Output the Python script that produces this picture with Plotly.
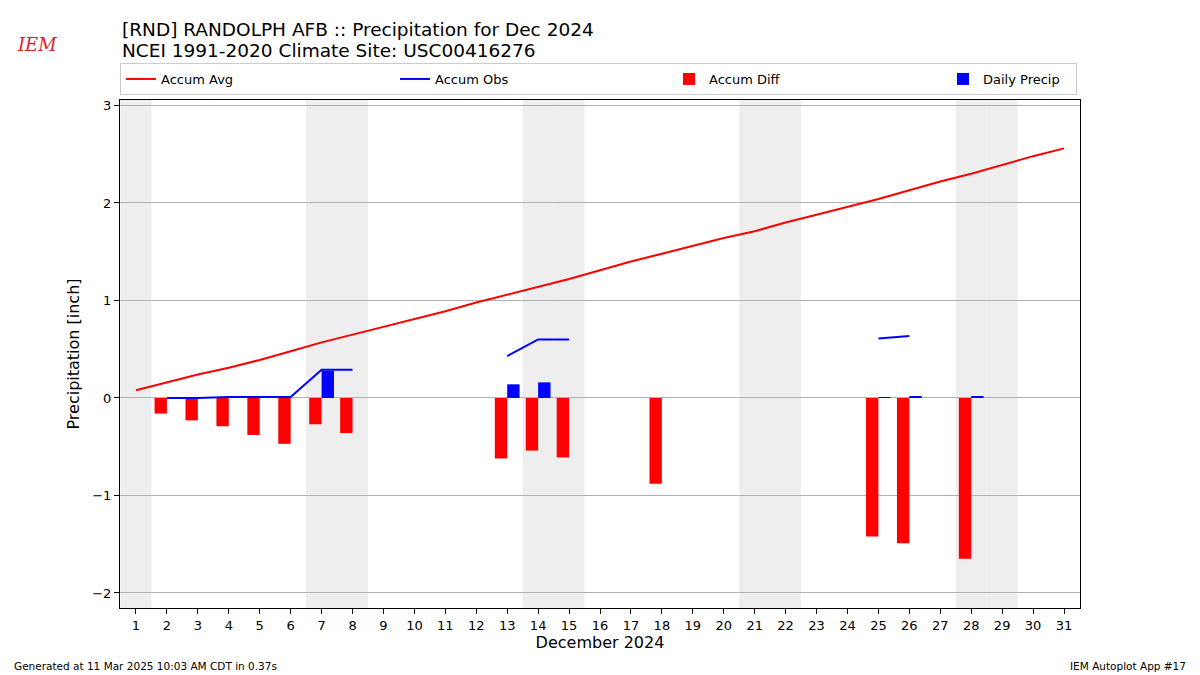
import datetime
import plotly.graph_objects as go

days = list(range(1, 32))
accum_avg = [0.08, 0.16, 0.24, 0.31, 0.39, 0.48, 0.57, 0.65, 0.73, 0.81, 0.89, 0.98,
             1.06, 1.14, 1.22, 1.31, 1.40, 1.48, 1.56, 1.64, 1.71, 1.80, 1.88, 1.96,
             2.04, 2.13, 2.22, 2.30, 2.39, 2.48, 2.56]
accum_obs = [None, 0.00, 0.00, 0.01, 0.01, 0.01, 0.29, 0.29, None, None, None, None,
             0.43, 0.60, 0.60, None, None, None, None, None, None, None, None, None,
             0.61, 0.635, None, None, None, None, None]
accum_diff = [None, -0.16, -0.23, -0.29, -0.38, -0.47, -0.27, -0.36, None, None, None, None,
              -0.62, -0.54, -0.61, None, None, -0.88, None, None, None, None, None, None,
              -1.42, -1.49, None, -1.65, None, None, None]
daily_precip = [None, 0.0, 0.0, 0.0, 0.0, 0.0, 0.28, 0.0, None, None, None, None,
                0.14, 0.16, 0.0, None, None, None, None, None, None, None, None, None,
                0.01, 0.02, None, 0.02, None, None, None]

year, month = 2024, 12
font = "DejaVu Sans"

# page offset compensation (body margin 8px)
PW, PH = 960, 508  # plot area size in px
def px_x(x):
    return (x - 120) / PW
def px_y(y):
    return 1 - (y - 100) / PH

fig = go.Figure()
fig.add_trace(go.Scatter(x=days, y=accum_avg, mode="lines", name="Accum Avg",
                         line=dict(color="red", width=2)))
fig.add_trace(go.Scatter(x=days, y=accum_obs, mode="lines", name="Accum Obs",
                         line=dict(color="blue", width=2), connectgaps=False))
fig.add_trace(go.Bar(x=days, y=accum_diff, name="Accum Diff", marker_color="red",
                     marker_line_width=0, width=0.4, offset=-0.4))
fig.add_trace(go.Bar(x=days, y=daily_precip, name="Daily Precip", marker_color="blue",
                     marker_line_width=0, width=0.4, offset=0.0, legendwidth=88))

# weekend shading
shapes = []
for d in days:
    wd = datetime.date(year, month, d).weekday()
    if wd >= 5:
        shapes.append(dict(type="rect", xref="x", yref="paper", x0=d - 0.5, x1=d + 0.5,
                           y0=0, y1=1, fillcolor="#eeeeee", line_width=0, layer="below"))

fig.update_layout(
    width=1192, height=667,
    margin=dict(l=112, r=120, t=92, b=67),
    paper_bgcolor="white", plot_bgcolor="white",
    font=dict(family=font, size=13, color="black"),
    barmode="overlay",
    shapes=shapes,
    showlegend=True,
    legend=dict(orientation="h", x=0, xanchor="left", y=px_y(95), yanchor="bottom",
                bordercolor="#cccccc", borderwidth=1, font=dict(size=13),
                entrywidth=229, entrywidthmode="pixels", itemwidth=30),
    xaxis=dict(range=[0.483, 31.517], tickvals=days, ticktext=[str(d) for d in days],
               showgrid=False, zeroline=False, showline=True, linecolor="black",
               linewidth=1, mirror=True, ticks="outside", ticklen=5, tickcolor="black",
               title=dict(text="December 2024", font=dict(size=16), standoff=5),
               tickfont=dict(size=13)),
    yaxis=dict(range=[-2.154, 3.056], tickvals=[-2, -1, 0, 1, 2, 3],
               showgrid=True, gridcolor="#b0b0b0", gridwidth=1, zeroline=False,
               showline=True, linecolor="black", linewidth=1, mirror=True,
               ticks="outside", ticklen=5, tickcolor="black",
               title=dict(text="Precipitation [inch]", font=dict(size=16), standoff=8),
               tickfont=dict(size=13)),
    annotations=[
        dict(text="[RND] RANDOLPH AFB :: Precipitation for Dec 2024",
             xref="paper", yref="paper", x=0, y=px_y(29), xanchor="left", yanchor="middle",
             showarrow=False, font=dict(size=18.5, family=font)),
        dict(text="NCEI 1991-2020 Climate Site: USC00416276",
             xref="paper", yref="paper", x=0, y=px_y(51), xanchor="left", yanchor="middle",
             showarrow=False, font=dict(size=18.5, family=font)),
        dict(text="Generated at 11 Mar 2025 10:03 AM CDT in 0.37s", xref="paper", yref="paper",
             x=px_x(12), y=px_y(666), xanchor="left", yanchor="middle",
             showarrow=False, font=dict(size=10.5, family=font)),
        dict(text="IEM Autoplot App #17", xref="paper", yref="paper",
             x=px_x(1188), y=px_y(666), xanchor="right", yanchor="middle",
             showarrow=False, font=dict(size=10.5, family=font)),
        dict(text="<i>IEM</i>", xref="paper", yref="paper", x=px_x(37), y=px_y(45),
             xanchor="center", yanchor="middle", showarrow=False,
             font=dict(size=18, family="DejaVu Serif", color="#d62728")),
    ],
)

fig.write_html("out.html")
